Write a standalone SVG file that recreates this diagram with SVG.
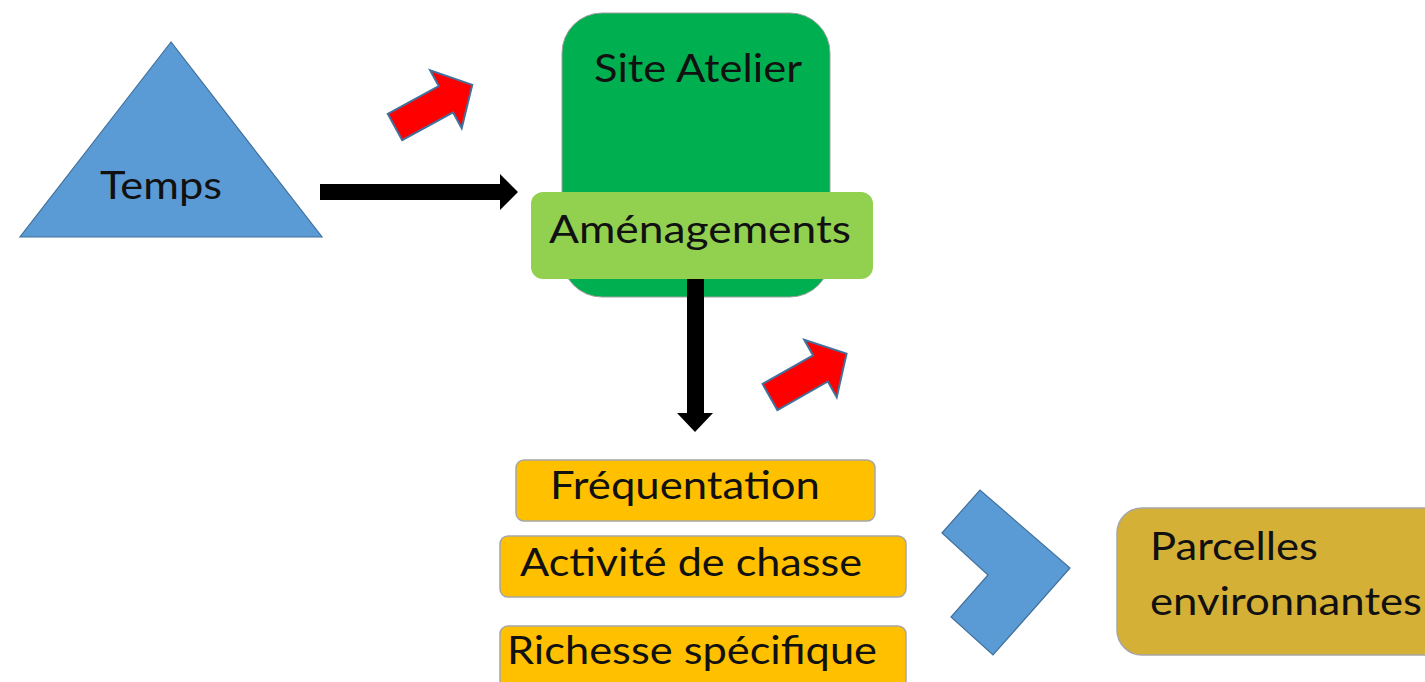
<svg xmlns="http://www.w3.org/2000/svg" width="1425" height="682" viewBox="0 0 1425 682">
<style>
  text { font-family: "Lato", "Liberation Sans", sans-serif; font-size: 38px; fill: #111; }
  .blue { fill: #5B9BD5; stroke: #41719C; stroke-width: 1.2; }
  .red { fill: #FF0000; stroke: #41719C; stroke-width: 2; stroke-linejoin: miter; }
  .orange { fill: #FFC000; stroke: #A6A6A6; stroke-width: 1.5; }
  .blk { fill: #000; }
</style>
<defs>
  <polygon id="redArrow" points="0,-15 58,-15 58,-33 88,0 58,33 58,15 0,15"/>
</defs>
<rect width="1425" height="682" fill="#fff"/>

<g id="temps">
  <polygon class="blue" points="171,42 20,237 322,237"/>
  <text x="100" y="199" textLength="122" lengthAdjust="spacingAndGlyphs">Temps</text>
</g>

<g id="site-atelier">
  <rect x="562" y="13" width="268" height="284" rx="40" fill="#00B050" stroke="#9E9E9E" stroke-width="1"/>
  <text x="594" y="82" textLength="208" lengthAdjust="spacingAndGlyphs">Site Atelier</text>
</g>

<g id="amenagements">
  <rect x="531" y="192" width="342" height="87" rx="12" fill="#92D050"/>
  <text x="549" y="243" textLength="302" lengthAdjust="spacingAndGlyphs">Aménagements</text>
</g>

<g id="frequentation">
  <rect class="orange" x="516" y="460" width="359" height="61" rx="8"/>
  <text x="550" y="499" textLength="270" lengthAdjust="spacingAndGlyphs">Fréquentation</text>
</g>

<g id="activite-chasse">
  <rect class="orange" x="500" y="536" width="406" height="61" rx="8"/>
  <text x="520" y="576" textLength="342" lengthAdjust="spacingAndGlyphs">Activité de chasse</text>
</g>

<g id="richesse-specifique">
  <rect class="orange" x="500" y="626" width="406" height="70" rx="8"/>
  <text x="507" y="664" textLength="370" lengthAdjust="spacingAndGlyphs">Richesse spécifique</text>
</g>

<g id="chevron">
  <polygon class="blue" points="942,533 980,490 1070,568 993,655 951,617 988,575"/>
</g>

<g id="parcelles">
  <rect x="1117" y="508" width="340" height="147" rx="25" fill="#D5B036" stroke="#A6A6A6" stroke-width="1.5"/>
  <text x="1150" y="560" textLength="168" lengthAdjust="spacingAndGlyphs">Parcelles</text>
  <text x="1150" y="615" textLength="272" lengthAdjust="spacingAndGlyphs">environnantes</text>
</g>

<g id="connectors">
  <polygon class="blk" points="320,184 500,184 500,174 518,192 500,210 500,200 320,200"/>
  <polygon class="blk" points="687,279 704,279 704,413 713,413 695,432 677,413 687,413"/>
  <use href="#redArrow" class="red" transform="translate(395,127) rotate(-28.6)"/>
  <use href="#redArrow" class="red" transform="translate(770,397) rotate(-29.5)"/>
</g>
</svg>
